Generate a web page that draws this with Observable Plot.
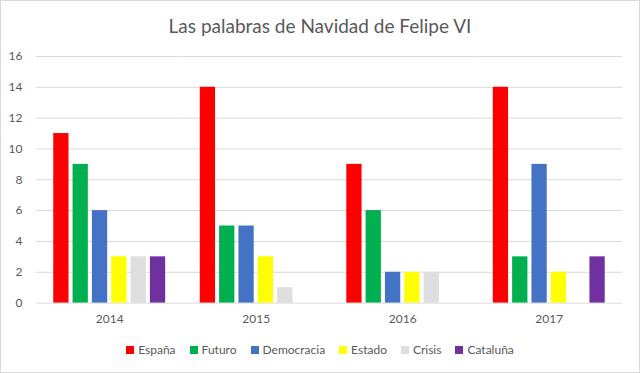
<!DOCTYPE html>
<html>
<head>
<meta charset="utf-8">
<script src="https://cdn.jsdelivr.net/npm/d3@7"></script>
<script src="https://cdn.jsdelivr.net/npm/@observablehq/plot@0.6"></script>
<style>
  html, body { margin: 0; padding: 0; background: #fff; }
  #wrap { position: relative; width: 640px; height: 373px; box-sizing: border-box; border: 1px solid #d9d9d9; font-family: Lato, "Open Sans", sans-serif; overflow: hidden; }
  #title { position: absolute; top: 13px; left: 0; width: 100%; text-align: center; font-size: 19px; color: #595959; }
  #chart { position: absolute; top: 39px; left: -1px; }
  #legend { position: absolute; top: 341px; left: 0; width: 100%; display: flex; justify-content: center; gap: 14px; font-size: 12px; color: #595959; }
  #legend span.item { display: inline-flex; align-items: center; }
  #legend span.sw { display: inline-block; width: 8px; height: 8px; margin-right: 4px; }
</style>
</head>
<body>
<div id="wrap">
  <div id="title">Las palabras de Navidad de Felipe VI</div>
  <div id="chart"></div>
  <div id="legend"></div>
</div>
<script>
const years = ["2014", "2015", "2016", "2017"];
const series = ["España", "Futuro", "Democracia", "Estado", "Crisis", "Cataluña"];
const colors = ["#ff0000", "#00b050", "#4472c4", "#ffff00", "#dedede", "#7030a0"];
const espana = [11, 14, 9, 14];
const futuro = [9, 5, 6, 3];
const democracia = [6, 5, 2, 9];
const estado = [3, 3, 2, 2];
const crisis = [3, 1, 2, 0];
const cataluna = [3, 0, 0, 3];
const yTicks = [0, 2, 4, 6, 8, 10, 12, 14, 16];

const valuesBySeries = [espana, futuro, democracia, estado, crisis, cataluna];
const data = [];
years.forEach((y, i) => {
  series.forEach((s, j) => {
    data.push({year: y, series: s, value: valuesBySeries[j][i]});
  });
});

const plot = Plot.plot({
  width: 640,
  height: 296,
  marginTop: 16,
  marginBottom: 33,
  marginLeft: 36,
  marginRight: 17,
  style: {fontFamily: "Lato, 'Open Sans', sans-serif", fontSize: "12px", color: "#595959"},
  fx: {domain: years, padding: 0, round: false, label: null},
  x: {domain: series, paddingInner: 0.21, paddingOuter: 0.895, round: false, axis: null},
  y: {domain: [0, 16], label: null},
  color: {domain: series, range: colors},
  marks: [
    Plot.ruleY(yTicks, {stroke: "#d9d9d9", strokeWidth: 1}),
    Plot.barY(data, {fx: "year", x: "series", y: "value", fill: "series"}),
    Plot.axisY(yTicks, {tickSize: 0, tickPadding: 14, label: null, fill: "#595959", fontSize: 12}),
    Plot.axisFx({anchor: "bottom", tickSize: 0, tickPadding: 11, label: null, fill: "#595959", fontSize: 12})
  ]
});
document.getElementById("chart").appendChild(plot);

const legend = document.getElementById("legend");
series.forEach((s, j) => {
  const item = document.createElement("span");
  item.className = "item";
  const sw = document.createElement("span");
  sw.className = "sw";
  sw.style.background = colors[j];
  item.appendChild(sw);
  item.appendChild(document.createTextNode(s));
  legend.appendChild(item);
});
</script>
</body>
</html>
